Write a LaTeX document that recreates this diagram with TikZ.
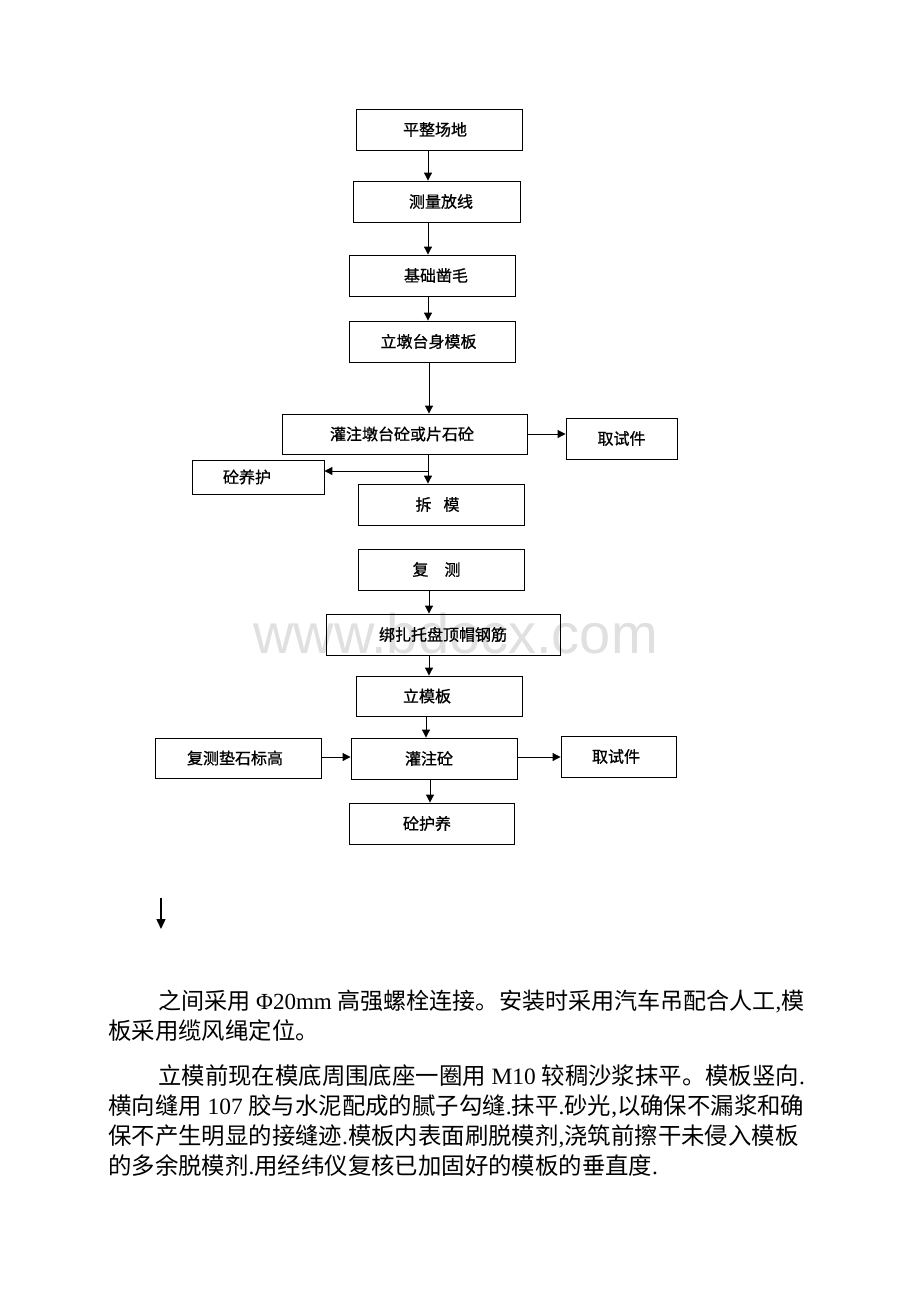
\documentclass[tikz,border=0pt]{standalone}
\usepackage{fontspec}
\setmainfont{Liberation Serif}
\newfontfamily\cjk{Noto Sans CJK SC}
\newfontfamily\cjkbox{Noto Sans CJK SC}[FakeBold=0.8]
\newfontfamily\wmfont{Liberation Sans}
\usetikzlibrary{arrows.meta}
\newcommand\latn[1]{{\rmfamily #1}}
\begin{document}
\begin{tikzpicture}[x=1pt,y=-1pt,
  box/.style={draw=black, line width=0.9pt, inner sep=0pt, font=\cjkbox\fontsize{16}{16}\selectfont},
  arr/.style={line width=1pt, -{Triangle[length=8pt,width=8pt]}},
  body/.style={anchor=base west, inner sep=0pt, font=\cjk\fontsize{23.4}{23.4}\selectfont},
  wmark/.style={anchor=base west, inner sep=0pt, text=black!12, font=\wmfont\fontsize{56}{56}\selectfont}]
\useasboundingbox (0,0) rectangle (920,1302);
\fill[white] (0,0) rectangle (920,1302);

% watermark
\node[wmark] (wm) at (253,653) {www.bdocx.com};

% upper flow
\node[box, minimum width=166pt, minimum height=41pt] (b1) at (439,129.5) {\hspace*{-8pt}平整场地};
\node[box, minimum width=167pt, minimum height=41pt] (b2) at (436.5,201.5) {\hspace*{9pt}测量放线};
\node[box, minimum width=166pt, minimum height=41pt] (b3) at (432,275.5) {\hspace*{8pt}基础凿毛};
\node[box, minimum width=166pt, minimum height=41pt] (b4) at (432,341.5) {\hspace*{-7pt}立墩台身模板};
\node[box, minimum width=245pt, minimum height=40pt] (b5) at (404.5,434) {\hspace*{-5pt}灌注墩台砼或片石砼};
\node[box, minimum width=111pt, minimum height=41pt] (s1) at (621.5,438.5) {取试件};
\node[box, minimum width=132pt, minimum height=34pt] (yh) at (258,477) {\hspace*{-22pt}砼养护};
\node[box, minimum width=166pt, minimum height=41pt] (cm) at (441,504.5) {\hspace*{-7pt}拆\hspace{12pt}模};

% lower flow
\node[box, minimum width=166pt, minimum height=41pt] (fc) at (441,569.5) {\hspace*{-9pt}复\hspace{16pt}测};
\node[box, minimum width=234pt, minimum height=41pt] (bz) at (443,634.5) {绑扎托盘顶帽钢筋};
\node[box, minimum width=166pt, minimum height=40pt] (lm) at (439,696) {\hspace*{-24pt}立模板};
\node[box, minimum width=166pt, minimum height=41pt] (gz) at (434,758.5) {\hspace*{-10pt}灌注砼};
\node[box, minimum width=166pt, minimum height=40pt] (dz) at (238,758) {\hspace*{-6pt}复测垫石标高};
\node[box, minimum width=115pt, minimum height=41pt] (s2) at (618.5,756.5) {\hspace*{-5pt}取试件};
\node[box, minimum width=165pt, minimum height=41pt] (hy) at (431.5,823.5) {\hspace*{-9pt}砼护养};

% connectors upper
\coordinate (ax) at (428,0);
\coordinate (ax2) at (429,0);
\draw[arr] (b1.south -| ax) -- (b2.north -| ax);
\draw[arr] (b2.south -| ax) -- (b3.north -| ax);
\draw[arr] (b3.south -| ax) -- (b4.north -| ax);
\draw[arr] (b4.south -| ax2) -- (b5.north -| ax2);
\draw[arr] (b5.east) -- (b5.east -| s1.west);
\draw[arr] (b5.south -| ax) -- (cm.north -| ax);
\coordinate (br) at (428,471);
\draw[arr] (br) -- (br -| yh.east);

% connectors lower
\coordinate (bx1) at (429,0);
\coordinate (bx2) at (426,0);
\coordinate (bx3) at (430,0);
\coordinate (my) at (0,757);
\draw[arr] (fc.south -| bx1) -- (bz.north -| bx1);
\draw[arr] (bz.south -| bx1) -- (lm.north -| bx1);
\draw[arr] (lm.south -| bx2) -- (gz.north -| bx2);
\draw[arr] (gz.south -| bx3) -- (hy.north -| bx3);
\draw[arr] (dz.east |- my) -- (gz.west |- my);
\draw[arr] (gz.east |- my) -- (s2.west |- my);

% stray arrow
\coordinate (fa) at (161,898);
\coordinate (fb) at (161,929);
\draw[line width=1.4pt, -{Triangle[length=10pt,width=9pt]}] (fa) -- (fb);

% body text
\node[body, font=\cjk\fontsize{23.05}{23.05}\selectfont] (t1) at (158,1009) {之间采用\latn{ Φ20mm }高强螺栓连接。安装时采用汽车吊配合人工\latn{,}模};
\node[body] (t2) at (108,1039) {板采用缆风绳定位。};
\node[body] (t3) at (158,1084) {立模前现在模底周围底座一圈用\latn{ M10 }较稠沙浆抹平。模板竖向\latn{.}};
\node[body] (t4) at (108,1114) {横向缝用\latn{ 107 }胶与水泥配成的腻子勾缝\latn{.}抹平\latn{.}砂光\latn{,}以确保不漏浆和确};
\node[body] (t5) at (108,1144) {保不产生明显的接缝迹\latn{.}模板内表面刷脱模剂\latn{,}浇筑前擦干未侵入模板};
\node[body] (t6) at (108,1174) {的多余脱模剂\latn{.}用经纬仪复核已加固好的模板的垂直度\latn{.}};
\end{tikzpicture}
\end{document}
